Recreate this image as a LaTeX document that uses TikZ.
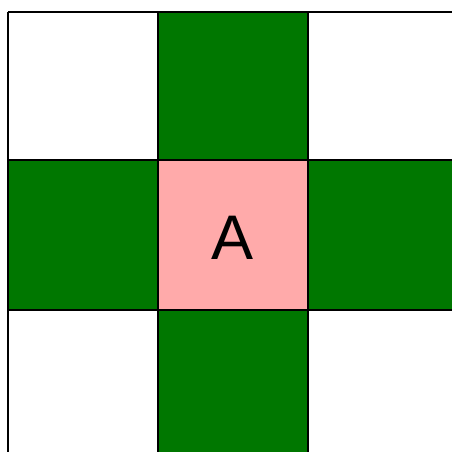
\documentclass[tikz,border=0pt]{standalone}
\usepackage{fontspec}
\setmainfont{Liberation Sans}
\definecolor{cellgreen}{RGB}{0,119,0}
\definecolor{cellpink}{RGB}{255,170,170}
\tikzset{cellline/.style={draw=black,line width=2pt}}
\begin{document}
\begin{tikzpicture}[x=1pt,y=-1pt]
\useasboundingbox (0,0) rectangle (452,452);
\clip (0,0) rectangle (452,452);
\fill[white] (0,0) rectangle (452,452);
% green cells
\fill[cellgreen] (158,12.5) rectangle (308,160);
\fill[cellgreen] (8,160) rectangle (158,309.5);
\fill[cellgreen] (308,160) rectangle (470,309.5);
\fill[cellgreen] (158,309.5) rectangle (308,470);
% center cell
\fill[cellpink] (158,160) rectangle (308,309.5);
% grid lines
\foreach \xx in {8,158,308}
  \draw[cellline] (\xx,12.5) -- (\xx,470);
\foreach \yy in {12.5,160,309.5}
  \draw[cellline] (8,\yy) -- (470,\yy);
\node[inner sep=0pt,font=\fontsize{63}{63}\selectfont] (a) at (233,237.5) {A};
\end{tikzpicture}
\end{document}
